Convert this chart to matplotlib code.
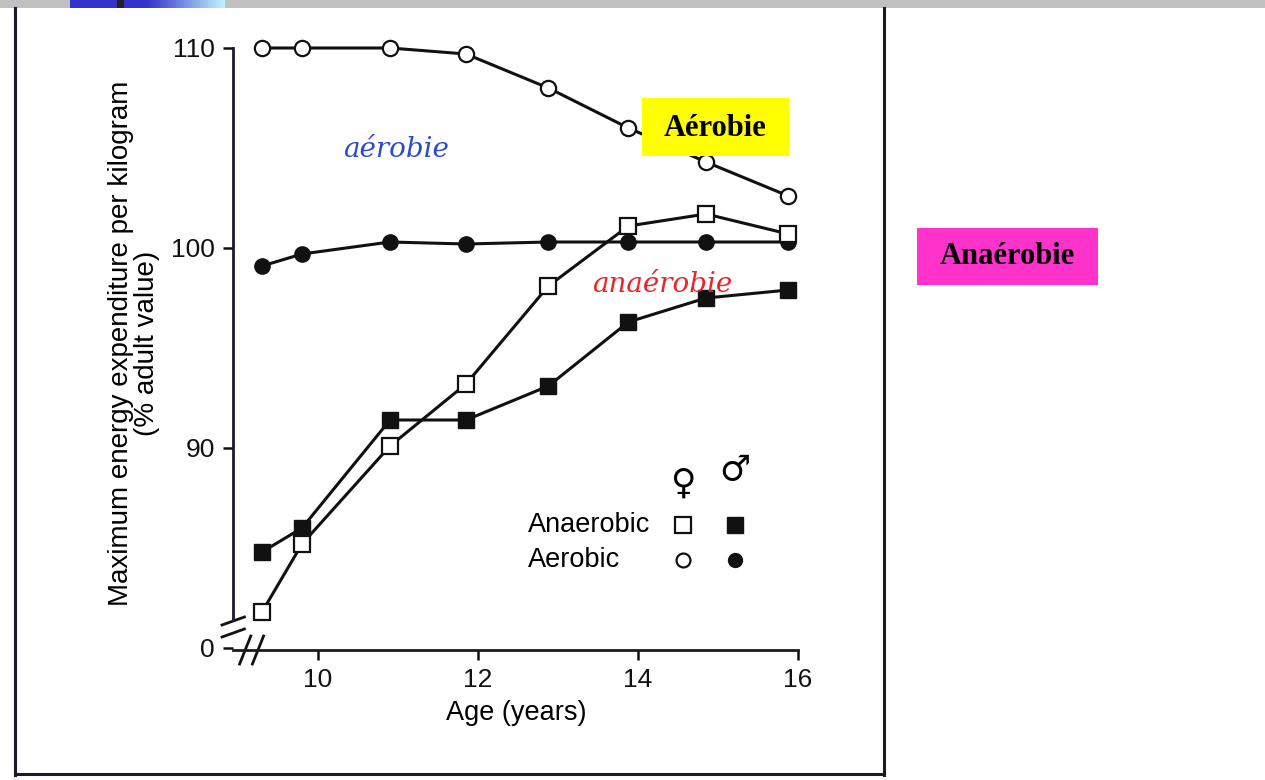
import numpy as np
import matplotlib
matplotlib.use("Agg")
import matplotlib.pyplot as plt
from matplotlib.patches import Rectangle
from matplotlib.lines import Line2D

# ages (years) and % of adult value
ages = [9.3, 9.8, 10.9, 11.85, 12.88, 13.88, 14.85, 15.88]
aerobic_f = [110.0, 110.0, 110.0, 109.7, 108.0, 106.0, 104.3, 102.6]
aerobic_m = [99.1, 99.7, 100.3, 100.2, 100.3, 100.3, 100.3, 100.3]
anaerobic_f = [81.8, 85.2, 90.1, 93.2, 98.1, 101.1, 101.7, 100.7]
anaerobic_m = [84.8, 86.0, 91.4, 91.4, 93.1, 96.3, 97.5, 97.9]

xticks = [10, 12, 14, 16]
yticks = [80, 90, 100, 110]
ytick_labels = ["0", "90", "100", "110"]

W, H = 1265, 780
plt.rcParams['font.family'] = ['Liberation Sans', 'DejaVu Sans']
fig = plt.figure(figsize=(W / 100, H / 100), dpi=100)

def fx(px):
    return px / W

def fy(py):
    return 1 - py / H

# grey bar on top with the blue gradient tab
fig.add_artist(Rectangle((0, fy(8)), 1, 8 / H, transform=fig.transFigure,
                         color="#c0c0c0", lw=0, zorder=0))
gax = fig.add_axes([fx(70), fy(8), 155 / W, 8 / H], zorder=3)
t = np.linspace(0, 1, 200)
t = np.clip((t - 0.5) / 0.5, 0, 1)
c0 = np.array([0.20, 0.20, 0.80])
c1 = np.array([0.75, 0.96, 0.98])
grad = c0[None, :] * (1 - t[:, None]) + c1[None, :] * t[:, None]
gax.imshow(grad[None, :, :], aspect="auto")
gax.axis("off")
fig.add_artist(Rectangle((fx(117), fy(8)), 7 / W, 8 / H, transform=fig.transFigure,
                         color="#222222", lw=0, zorder=4))

# scanned page frame
for xs, ys in [([15, 15], [8, 775]), ([884, 884], [8, 775]), ([15, 884], [774, 774])]:
    fig.add_artist(Line2D([fx(v) for v in xs], [fy(v) for v in ys],
                          transform=fig.transFigure, color="#1a1a2a", lw=2.2))

# main axes
ax = fig.add_axes([fx(233), fy(650), (799 - 233) / W, (650 - 37) / H])
ax.set_xlim(8.9375, 8.9375 + 566 / 80)
ax.set_ylim(79.9, 79.9 + 613 / 20)

lw = 2.2
ax.plot(ages, aerobic_m, "-o", color="#111111", lw=lw, ms=11, mfc="#111111",
        mec="#111111", zorder=3)
ax.plot(ages, aerobic_f, "-o", color="#111111", lw=lw, ms=11, mfc="white",
        mec="#111111", mew=1.6, zorder=3)
ax.plot(ages, anaerobic_m, "-s", color="#111111", lw=lw, ms=12, mfc="#111111",
        mec="#111111", zorder=3)
ax.plot(ages, anaerobic_f, "-s", color="#111111", lw=lw, ms=12, mfc="white",
        mec="#111111", mew=1.6, zorder=4)

for s in ["top", "right"]:
    ax.spines[s].set_visible(False)
ax.spines["left"].set_bounds(81.4, 110)
ax.spines["bottom"].set_bounds(8.9375, 16)
for s in ["left", "bottom"]:
    ax.spines[s].set_linewidth(2.0)
    ax.spines[s].set_color("#1a1a2a")

ax.set_xticks(xticks)
ax.set_yticks(yticks)
ax.set_yticklabels(ytick_labels)
ax.tick_params(axis="both", direction="out", length=7, width=1.8,
               labelsize=19, colors="#111111", pad=6)
ax.set_xlabel("Age (years)", fontsize=19.5, labelpad=6)
ax.set_ylabel("Maximum energy expenditure per kilogram\n(% adult value)",
              fontsize=20, linespacing=1.0, labelpad=8)

# axis break marks
for dy in [0.0, 0.6]:
    ax.plot([8.80, 9.08], [80.55 + dy, 80.95 + dy], color="#111111", lw=2,
            clip_on=False)
for dx in [0.0, 0.16]:
    ax.plot([9.02 + dx, 9.16 + dx], [79.2, 80.6], color="#111111", lw=2,
            clip_on=False)

# legend drawn like the original figure
ax.text(12.62, 86.15, "Anaerobic", fontsize=19.5, va="center", ha="left")
ax.text(12.62, 84.4, "Aerobic", fontsize=19.5, va="center", ha="left")
ax.plot([14.56], [86.15], "s", ms=11, mfc="white", mec="#111111", mew=1.6)
ax.plot([15.21], [86.15], "s", ms=11, mfc="#111111", mec="#111111")
ax.plot([14.56], [84.4], "o", ms=10, mfc="white", mec="#111111", mew=1.6)
ax.plot([15.21], [84.4], "o", ms=10, mfc="#111111", mec="#111111")
ax.text(14.56, 88.2, "\u2640", fontsize=25, ha="center", va="center",
        family="DejaVu Sans", fontweight="bold")
ax.text(15.21, 88.9, "\u2642", fontsize=25, ha="center", va="center",
        family="DejaVu Sans", fontweight="bold")

# hand-written notes
ax.text(10.98, 104.9, "aérobie", fontsize=20, color="#2a4bd0", ha="center",
        va="center", family="DejaVu Serif", style="italic")
ax.text(14.3, 98.15, "anaérobie", fontsize=20, color="#e8262a", ha="center",
        va="center", family="DejaVu Serif", style="italic")

# coloured labels
fig.add_artist(Rectangle((fx(642), fy(156)), 147 / W, 58 / H,
                         transform=fig.transFigure, color="#ffff00", lw=0, zorder=5))
fig.text(fx(715), fy(128), "Aérobie", fontsize=22, fontweight="bold",
         family="Liberation Serif", ha="center", va="center", zorder=6)
fig.add_artist(Rectangle((fx(917), fy(285)), 181 / W, 57 / H,
                         transform=fig.transFigure, color="#ff33cc", lw=0, zorder=5))
fig.text(fx(1007), fy(257), "Anaérobie", fontsize=22, fontweight="bold",
         family="Liberation Serif", ha="center", va="center", zorder=6)

fig.savefig("out.png", dpi=100)
